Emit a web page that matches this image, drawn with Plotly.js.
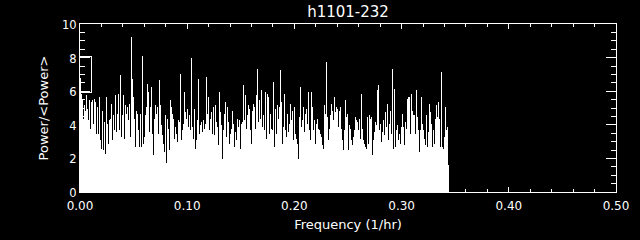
<!DOCTYPE html>
<html>
<head>
<meta charset="utf-8">
<script src="https://cdn.plot.ly/plotly-3.0.1.min.js"></script>
<style>
html,body{margin:0;padding:0;background:#000;}
#chart{width:640px;height:240px;}
.plot path, .scatterlayer path, .barlayer path{shape-rendering:crispEdges;}
</style>
</head>
<body>
<div id="chart"></div>
<script>
// Frequency bin spacing (1/hr) of the plotted spectrum
const freqStep = 0.5 / 536;

// Normalised power (Power/<Power>), envelope read column by column
const powerA = [6.8,5.85,5.55,4.37,5.15,4.85,5.75,4.95,4.27,5.45,3.77,5.35,5.45,4.07,5.55,5.35,3.47,5.05,3.47,5.65,3.08,2.58,4.85,2.48,4.17,2.28,5.65,4.07,2.88,4.27,4.37,5.25,3.08,4.57,3.67,5.75,3.57,4.67,5.85,3.67,6.95,3.28,4.57,5.75,3.18,5.15,4.67,5.05,4.27,5.25,3.28,9.2,6.75,5.65,4.37,2.68,4.85,4.67,3.67,2.68,4.67,2.68];
const powerB = [8.07,2.88,3.28,4.57,5.05,6.45,5.95,3.57,5.05,6.25,3.47,2.18,4.37,5.15,4.67,5.05,3.47,6.65,5.15,3.97,3.38,2.88,2.38,4.57,1.72,4.37,3.77,2.48,5.45,5.05,4.67,4.37,3.18,3.87,3.47,2.98,4.27,4.17,7.0,3.08,3.67,4.07,5.95,4.77,4.37,4.95,3.87,4.57,3.67,7.95,3.87,3.18,4.95,2.58,3.08,4.27,6.75,3.47,3.97,4.17,3.57,4.27];
const powerC = [3.77,4.07,6.85,4.67,5.65,3.67,4.37,4.77,3.47,5.05,3.38,5.15,4.17,3.87,2.78,5.95,4.77,3.97,1.98,3.67,4.67,5.35,3.28,5.05,4.17,2.88,3.47,3.77,4.85,4.07,2.68,3.57,3.08,4.37,3.87,4.27,2.58,4.07,4.17,6.35,4.27,5.75,3.77,4.57,5.15,4.95,3.67,2.88,4.85,5.25,5.05,3.77,5.75,7.34,4.17,5.45,4.37,6.05,3.87,4.57,3.67,5.95];
const powerD = [3.18,5.85,5.65,3.47,4.67,3.77,3.67,6.55,2.68,4.95,3.47,5.15,4.37,5.05,7.24,5.35,2.88,3.87,5.85,3.67,3.28,4.67,3.57,4.07,5.25,4.27,4.85,3.08,5.05,3.47,3.18,2.88,1.98,4.47,6.25,3.87,4.27,5.05,3.57,4.67,4.95,4.07,5.95,3.67,3.08,5.95,5.05,3.67,4.27,2.88,4.07,4.37,3.77,3.67,3.47,3.28,2.78,2.58,5.15,4.67,7.74,4.47];
const powerE = [3.08,3.77,4.57,5.25,4.85,4.27,5.65,4.77,5.05,4.95,3.87,4.85,5.05,3.77,3.08,2.48,3.67,5.45,4.47,4.67,2.48,3.97,3.77,3.08,2.78,3.28,3.67,4.47,4.27,4.17,3.67,4.37,3.18,5.85,3.77,3.08,2.88,2.68,2.58,4.47,2.88,4.57,4.37,4.47,2.18,3.08,3.57,4.17,3.97,6.05,6.35,3.67,4.07,2.98,3.57,4.27,3.38,4.77,3.87,5.25,3.08,4.07];
const powerF = [4.85,3.47,7.34,2.58,6.15,2.68,3.67,3.97,3.08,3.47,2.88,3.87,4.67,3.87,2.78,4.17,3.77,5.55,5.65,5.65,3.47,5.85,4.85,4.57,4.57,3.47,6.05,4.47,3.67,2.38,3.67,5.65,4.07,3.67,3.18,2.78,4.57,2.68,3.57,5.25,4.77,4.07,2.68,3.67,2.88,4.37,5.15,4.47,5.35,4.37,2.68,7.14,2.68,2.58,3.28,5.05,3.67,3.87,1.58];

// Outline drawn at the low-frequency end
const boxFreq = [0, 0.0103, 0.0103, 0];
const boxPow  = [8.05, 8.05, 5.95, 5.95];

const xTickVals = [0, 0.1, 0.2, 0.3, 0.4, 0.5];
const xTickText = ['0.00','0.10','0.20','0.30','0.40','0.50'];
const yTickVals = [0, 2, 4, 6, 8, 10];
const yTickText = ['0','2','4','6','8','10'];

const power = [].concat(powerA, powerB, powerC, powerD, powerE, powerF);
const freq = power.map((_, i) => (i + 0.5) * freqStep);

const font = 'DejaVu Sans, sans-serif';

const traces = [
  {
    type: 'bar',
    x: freq,
    y: power,
    width: freqStep,
    marker: {color: '#ffffff', line: {width: 0}},
    hoverinfo: 'skip'
  },
  {
    type: 'scatter',
    mode: 'lines',
    x: boxFreq,
    y: boxPow,
    line: {color: '#ffffff', width: 1},
    hoverinfo: 'skip'
  }
];

const layout = {
  width: 640,
  height: 240,
  paper_bgcolor: '#000000',
  plot_bgcolor: '#000000',
  showlegend: false,
  bargap: 0,
  margin: {l: 80, r: 24, t: 24, b: 48, pad: 0},
  font: {family: font, color: '#ffffff', size: 12},
  title: {
    text: 'h1101-232',
    font: {family: font, size: 15, color: '#ffffff'},
    x: 0.5, xref: 'paper', xanchor: 'center',
    y: 0.951, yref: 'container', yanchor: 'middle'
  },
  xaxis: {
    range: [0, 0.5],
    tickvals: xTickVals,
    ticktext: xTickText,
    ticks: 'inside',
    ticklen: 5,
    tickcolor: '#ffffff',
    tickwidth: 1,
    ticklabelstandoff: 3,
    minor: {dtick: 0.02, ticks: 'inside', ticklen: 3, tickcolor: '#ffffff', tickwidth: 1, showgrid: false},
    showline: true,
    linecolor: '#ffffff',
    linewidth: 1,
    mirror: 'ticks',
    showgrid: false,
    zeroline: false,
    tickfont: {family: font, size: 12, color: '#ffffff'},
    title: {text: 'Frequency (1/hr)', font: {family: font, size: 13, color: '#ffffff'}, standoff: 7},
    fixedrange: true,
    automargin: false
  },
  yaxis: {
    range: [0, 10],
    tickvals: yTickVals,
    ticktext: yTickText,
    ticks: 'inside',
    ticklen: 10,
    tickcolor: '#ffffff',
    tickwidth: 1,
    ticklabelshift: 1,
    minor: {dtick: 0.5, ticks: 'inside', ticklen: 5, tickcolor: '#ffffff', tickwidth: 1, showgrid: false},
    showline: true,
    linecolor: '#ffffff',
    linewidth: 1,
    mirror: 'ticks',
    showgrid: false,
    zeroline: false,
    tickfont: {family: font, size: 11.5, color: '#ffffff'},
    title: {text: 'Power/&lt;Power&gt;', font: {family: font, size: 13, color: '#ffffff'}, standoff: 10},
    fixedrange: true,
    automargin: false
  }
};

Plotly.newPlot('chart', traces, layout, {staticPlot: true, displayModeBar: false});
</script>
</body>
</html>
